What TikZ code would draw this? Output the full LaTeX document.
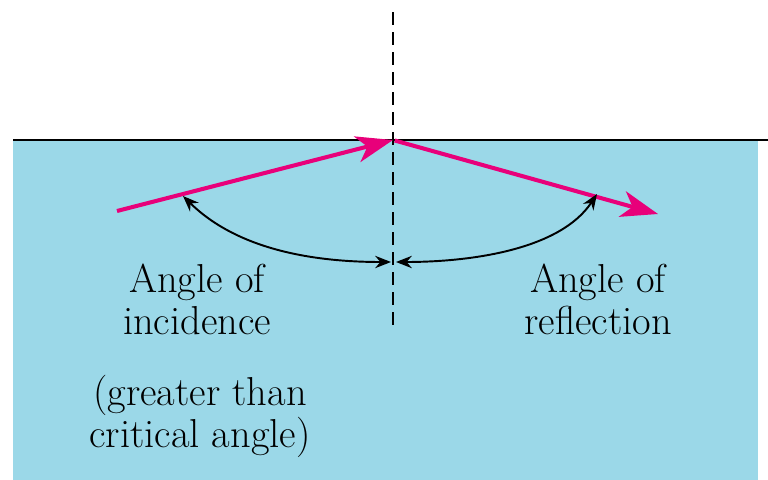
\documentclass[tikz,border=0pt]{standalone}
\usetikzlibrary{arrows.meta}
\definecolor{eau}{RGB}{155,216,232}
\definecolor{rayon}{RGB}{232,0,122}
\tikzset{
  ray/.style={line width=2.3pt, rayon, -{Stealth[length=21pt,width=15pt,inset=6pt]}},
  angle/.style={line width=1.1pt, {Stealth[length=9pt,width=7pt]}-{Stealth[length=9pt,width=7pt]}},
  label/.style={align=center, font=\fontsize{23}{24}\selectfont}
}
\begin{document}
\begin{tikzpicture}[x=0.02cm, y=-0.02cm]
	\useasboundingbox (0,0) rectangle (768,480);
	% Eau
	\fill[eau] (13,140) rectangle (758,480);
	% Surface
	\draw[line width=1.7pt] (13,140) -- (768,140);
	% Normale
	\draw[line width=1.1pt, dash pattern=on 7.4pt off 4pt] (393,12) -- (393,325);

	% Rayons
	\coordinate (O) at (393,140);
	\coordinate (A) at (117,211);
	\coordinate (B) at (658,214);
	\draw[ray] (A) -- (O);
	\draw[ray, shorten <=1pt] (O) -- (B);

	% Angles
	\coordinate (i1) at (183,196);
	\coordinate (i2) at (391,262);
	\coordinate (r1) at (396,262);
	\coordinate (r2) at (597,194);
	\draw[angle] (i1) .. controls (240,252) and (320,262) .. (i2);
	\draw[angle] (r1) .. controls (470,262) and (560,250) .. (r2);

	% Textes
	\node[label] (inc) at (197,299) {Angle of\\incidence};
	\node[label] (refl) at (598,299) {Angle of\\reflection};
	\node[label] (crit) at (200,416) {(greater than\\critical angle)};
\end{tikzpicture}
\end{document}
